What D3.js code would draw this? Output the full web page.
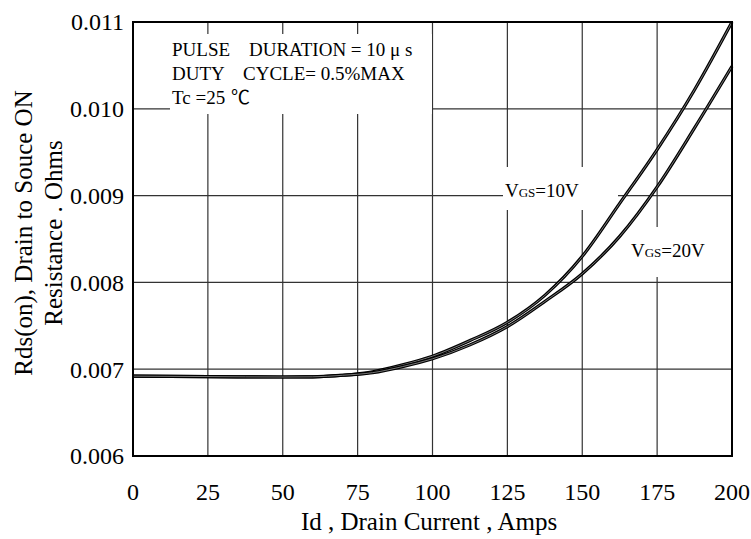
<!DOCTYPE html>
<html>
<head>
<meta charset="utf-8">
<script src="https://cdn.jsdelivr.net/npm/d3@7"></script>
<style>
  html, body { margin: 0; padding: 0; background: #fff; }
  svg text { font-family: "Liberation Serif", "Times New Roman", "Noto Sans CJK SC", serif; fill: #000; }
</style>
</head>
<body>
<svg id="chart" width="751" height="539"></svg>
<script>
// ── Data ──
const currents = [0, 25, 50, 60, 70, 80, 90, 100, 112.5, 125, 137.5, 150, 162.5, 175, 187.5, 200];
const rdsVgs10 = [0.00692, 0.006915, 0.00691, 0.006912, 0.00693, 0.00697, 0.00705, 0.00715,
                  0.00733, 0.00754, 0.00785, 0.00830, 0.00891, 0.00953, 0.01022, 0.0110];
const rdsVgs20 = [0.00692, 0.006915, 0.00691, 0.006912, 0.00693, 0.00696, 0.00703, 0.00712,
                  0.00728, 0.00749, 0.00778, 0.00810, 0.00853, 0.00910, 0.00978, 0.01049];
const xTicks = [0, 25, 50, 75, 100, 125, 150, 175, 200];
const yTicks = [0.006, 0.007, 0.008, 0.009, 0.010, 0.011];

const W = 751, H = 539;
const M = { t: 22, r: 19, b: 83, l: 133 };

const svg = d3.select("#chart");

const x = d3.scaleLinear().domain([0, 200]).range([M.l, W - M.r]);
const y = d3.scaleLinear().domain([0.006, 0.011]).range([H - M.b, M.t]);

// ── Grid ──
const grid = svg.append("g");
grid.selectAll(".vg").data(xTicks).enter().append("line")
  .attr("x1", d => x(d)).attr("x2", d => x(d))
  .attr("y1", y(0.006)).attr("y2", y(0.011))
  .attr("stroke", "#333").attr("stroke-width", 1.2);
grid.selectAll(".hg").data(yTicks).enter().append("line")
  .attr("x1", x(0)).attr("x2", x(200))
  .attr("y1", d => y(d)).attr("y2", d => y(d))
  .attr("stroke", "#333").attr("stroke-width", 1.2);

// white boxes behind the notes
svg.append("rect").attr("x", 170).attr("y", 34).attr("width", 262).attr("height", 80).attr("fill", "#fff");
svg.append("rect").attr("x", 503).attr("y", 167).attr("width", 115).attr("height", 43).attr("fill", "#fff");
svg.append("rect").attr("x", 626).attr("y", 227).attr("width", 100).attr("height", 50).attr("fill", "#fff");

// ── Curves ──
const line = d3.line()
  .x((d, i) => x(currents[i]))
  .y(d => y(d))
  .curve(d3.curveMonotoneX);

[rdsVgs10, rdsVgs20].forEach(s => {
  svg.append("path").attr("d", line(s)).attr("fill", "none")
    .attr("stroke", "#000").attr("stroke-width", 3.2);
  svg.append("path").attr("d", line(s)).attr("fill", "none")
    .attr("stroke", "#aaa").attr("stroke-width", 0.7);
});

// ── Frame ──
svg.append("rect")
  .attr("x", x(0)).attr("y", y(0.011))
  .attr("width", x(200) - x(0)).attr("height", y(0.006) - y(0.011))
  .attr("fill", "none").attr("stroke", "#000").attr("stroke-width", 2);

// ── Tick labels ──
svg.selectAll(".yt").data(yTicks).enter().append("text")
  .attr("x", M.l - 9).attr("y", d => y(d)).attr("dy", "0.35em")
  .attr("text-anchor", "end").style("font-size", "24px")
  .text(d => d3.format(".3f")(d));

svg.selectAll(".xt").data(xTicks).enter().append("text")
  .attr("x", d => x(d)).attr("y", 500)
  .attr("text-anchor", "middle").style("font-size", "24px")
  .text(d => d);

// ── Axis titles ──
svg.append("text")
  .attr("x", 429).attr("y", 530)
  .attr("text-anchor", "middle").style("font-size", "25px")
  .text("Id , Drain Current , Amps");

const yt = svg.append("text")
  .attr("transform", "translate(0,233) rotate(-90)")
  .attr("text-anchor", "middle").style("font-size", "25px");
yt.append("tspan").attr("x", 0).attr("y", 32).text("Rds(on), Drain to Souce ON");
yt.append("tspan").attr("x", 0).attr("y", 62).text("Resistance . Ohms");

// ── Notes ──
const note = svg.append("g").style("font-size", "19px");
note.append("text").attr("x", 172).attr("y", 56).text("PULSE");
note.append("text").attr("x", 249).attr("y", 56).text("DURATION = 10 μ s");
note.append("text").attr("x", 172).attr("y", 80).text("DUTY");
note.append("text").attr("x", 243).attr("y", 80).text("CYCLE= 0.5%MAX");
note.append("text").attr("x", 172).attr("y", 104).text("Tc =25");
note.append("text").attr("x", 231).attr("y", 104).text("℃");

function vgsLabel(px, py, v) {
  const t = svg.append("text").attr("x", px).attr("y", py).style("font-size", "19px");
  t.append("tspan").text("V");
  t.append("tspan").style("font-size", "13px").text("GS");
  t.append("tspan").text("=" + v);
}
vgsLabel(505, 197, "10V");
vgsLabel(631, 257, "20V");
</script>
</body>
</html>
